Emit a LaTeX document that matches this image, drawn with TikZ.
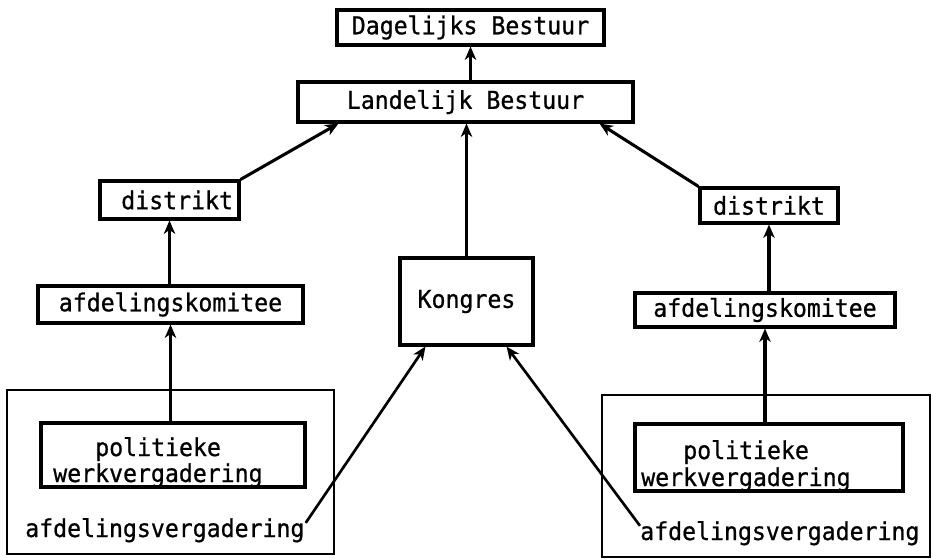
\documentclass[tikz,border=0pt]{standalone}
\usepackage{fontspec}
\newfontfamily\tw[FakeStretch=0.94,FakeBold=0.8]{DejaVu Sans Mono}
\usetikzlibrary{arrows.meta,calc}
\begin{document}
\begin{tikzpicture}[x=0.75pt,y=-0.75pt,
  txt/.style={font=\tw\fontsize{18.5}{22}\selectfont},
  box/.style={draw, line width=2.3pt, inner sep=0pt, txt},
  wh/.style 2 args={minimum width=#1*0.75pt, minimum height=#2*0.75pt},
  outerbox/.style={draw, line width=1.8pt, inner sep=0pt},
  lbl/.style={inner sep=0pt, anchor=base west, txt},
  arr/.style={line width=2.3pt, -{Stealth[length=10pt,width=8.5pt,inset=3pt]}},
  thin arr/.style={line width=2pt, -{Stealth[length=10pt,width=8.5pt,inset=3pt]}}]
\useasboundingbox (0,0) rectangle (933,560);
% top
\node[box,wh={267}{35}] (db) at (470.5,27.5) {Dagelijks Bestuur};
\node[box,wh={335}{40}] (lb) at (465.5,102) {Landelijk Bestuur};
% centre
\node[box,wh={133}{87}] (kon) at (466.5,301.5) {Kongres};
% left column
\node[box,wh={139}{38},text width=95.25pt,align=right] (ld) at (169.5,200) {distrikt};
\node[box,wh={265}{37}] (lak) at (170.5,304.5) {afdelingskomitee};
\node[outerbox,wh={327}{164}] (lout) at (170.5,472) {};
\node[box,wh={264}{64}] (lpw) at (173,455) {};
\node[lbl] (lpw1) at (95,456) {politieke};
\node[lbl] (lpw2) at (53,482) {werkvergadering};
\node[lbl] (lav) at (25,537) {afdelingsvergadering};
% right column
\node[box,wh={138}{35}] (rd) at (769,205.5) {distrikt};
\node[box,wh={260}{34}] (rak) at (765,310) {afdelingskomitee};
\node[outerbox,wh={328}{162}] (rout) at (766,476) {};
\node[box,wh={268}{67}] (rpw) at (769,457.5) {};
\node[lbl] (rpw1) at (683,459) {politieke};
\node[lbl] (rpw2) at (641,486) {werkvergadering};
\node[lbl] (rav) at (640,540) {afdelingsvergadering};
% connector end points
\coordinate (lavs) at ($(lav.north east)+(1,5)$);
\coordinate (ravs) at ($(rav.north west)+(0,5)$);
% arrows
\draw[arr] (db.south |- lb.north) -- (db.south);
\draw[arr] (kon.north) -- (kon.north |- lb.south);
\draw[arr] (ld.north east) -- ($(lb.south west)+(42,0)$);
\draw[arr] (rd.north west) -- ($(lb.south east)+(-35,0)$);
\draw[arr] (lpw.north -| lak.south) -- (lak.south);
\draw[arr] (lak.north -| ld.south) -- (ld.south);
\draw[arr] (rpw.north -| rak.south) -- (rak.south);
\draw[arr] (rak.north -| rd.south) -- (rd.south);
\draw[thin arr] (lavs) -- ($(kon.south west)+(27,0)$);
\draw[thin arr] (ravs) -- ($(kon.south east)+(-28,0)$);
\end{tikzpicture}
\end{document}
